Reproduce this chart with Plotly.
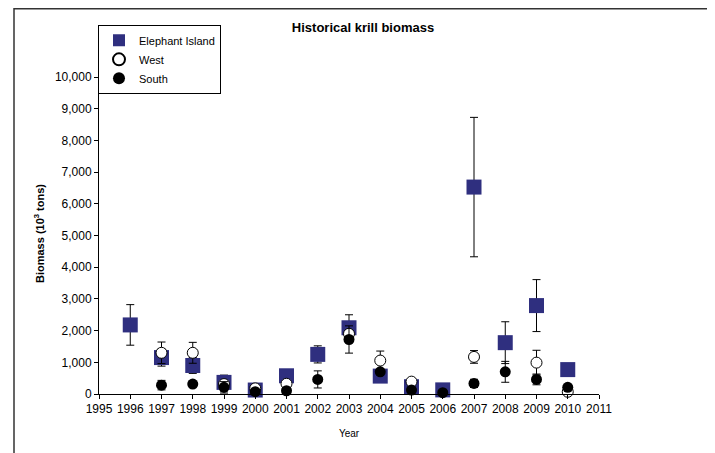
import plotly.graph_objects as go

# values (10^3 tons)
years = list(range(1996, 2011))

elephant_island = [2180, 1150, 900, 366, 125, 575, 1250, 2090, 565, 230, 130, 6530, 1620, 2790, 770]
elephant_err = [640, 270, 250, 230, 0, 0, 270, 410, 0, 0, 0, 2200, 660, 820, 0]

west = [None, 1300, 1300, 313, 178, 323, None, 1900, 1055, 390, None, 1170, None, 990, 70]
west_err = [0, 340, 330, 0, 0, 0, 0, 0, 300, 0, 0, 200, 0, 390, 0]

south = [None, 280, 313, 210, 73, 103, 460, 1720, 700, 125, 40, 335, 700, 460, 210]
south_err = [0, 150, 0, 180, 0, 0, 270, 430, 0, 0, 0, 130, 330, 170, 0]

y_ticks = list(range(0, 10001, 1000))

font_name = "Liberation Sans, Arial, sans-serif"

fig = go.Figure()

fig.add_trace(go.Scatter(
    x=years, y=elephant_island, mode='markers', name='Elephant Island',
    marker=dict(symbol='square', size=15, color='#2F2F7F'),
    error_y=dict(type='data', array=elephant_err, color='black', thickness=1, width=4),
    cliponaxis=False
))
fig.add_trace(go.Scatter(
    x=years, y=west, mode='markers', name='West',
    marker=dict(symbol='circle', size=11, color='white', line=dict(color='black', width=1)),
    error_y=dict(type='data', array=west_err, color='black', thickness=1, width=4),
    cliponaxis=False
))
fig.add_trace(go.Scatter(
    x=years, y=south, mode='markers', name='South',
    marker=dict(symbol='circle', size=11, color='black'),
    error_y=dict(type='data', array=south_err, color='black', thickness=1, width=4),
    cliponaxis=False
))

# outer chart frame
fig.add_shape(type='rect', xref='paper', yref='paper',
              x0=-0.17, x1=1.228, y0=-0.25, y1=1.2,
              line=dict(color='#333333', width=1.5))

fig.update_layout(
    width=715, height=453,
    margin=dict(l=91, r=124, t=65, b=67),
    paper_bgcolor='white', plot_bgcolor='white',
    font=dict(family=font_name, size=12, color='black'),
    title=dict(text='<b>Historical krill biomass</b>', x=355 / 715, xanchor='center',
               y=1 - 19 / 453, yanchor='middle', font=dict(size=13)),
    showlegend=True,
    legend=dict(x=-0.002, y=1.15, xanchor='left', yanchor='top',
                bgcolor='white', bordercolor='black', borderwidth=1,
                font=dict(size=11), itemsizing='constant', itemwidth=30,
                tracegroupgap=0),
    xaxis=dict(range=[1995, 2011], tickmode='linear', tick0=1995, dtick=1,
               showline=True, linecolor='black', linewidth=1,
               ticks='outside', ticklen=4, tickcolor='black',
               showgrid=False, zeroline=False,
               title=dict(text='Year', font=dict(size=10), standoff=14)),
    yaxis=dict(range=[0, 10130], tickvals=y_ticks, tickformat=',d',
               showline=True, linecolor='black', linewidth=1,
               ticks='outside', ticklen=4, tickcolor='black',
               showgrid=False, zeroline=False,
               title=dict(text='<b>Biomass (10<sup>3</sup> tons)</b>', font=dict(size=11), standoff=8)),
)

fig.write_html("out.html")
